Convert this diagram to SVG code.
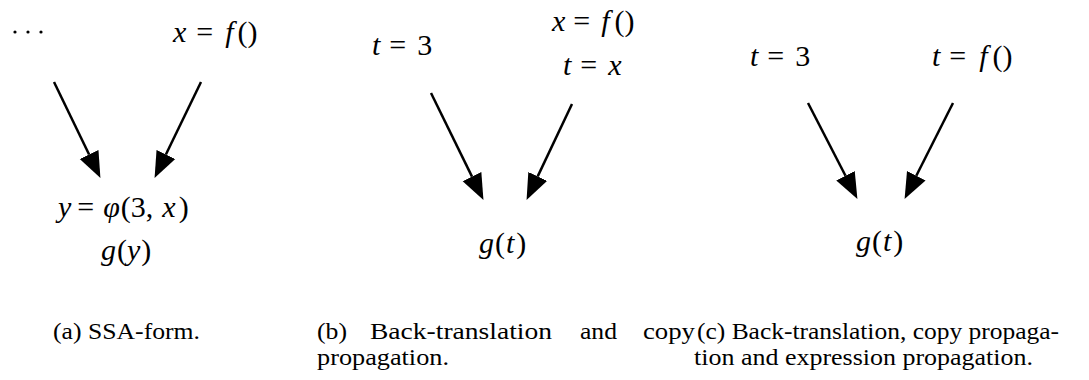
<svg xmlns="http://www.w3.org/2000/svg" width="1089" height="380" viewBox="0 0 1089 380">
<style>
.m{font-family:'Liberation Serif','DejaVu Serif',serif;font-size:30px;fill:#000}
.i{font-style:italic}
.c{font-family:'Liberation Serif','DejaVu Serif',serif;font-size:23px;fill:#000}
.e{stroke:#000;stroke-width:2.5;fill:none}
</style>
<defs>
<marker id="ah" markerUnits="userSpaceOnUse" markerWidth="26" markerHeight="22" viewBox="0 0 25 20" refX="0" refY="10" orient="auto">
<path d="M0,0 L25,10 L0,20 z" fill="#000"/>
</marker>
</defs>
<rect width="1089" height="380" fill="#fff"/>

<!-- Panel (a) -->
<g id="a_dots">
<circle cx="15" cy="32" r="1.6"/><circle cx="28" cy="32" r="1.6"/><circle cx="41" cy="32" r="1.6"/>
</g>
<g id="a_xf">
<text class="m" x="173" y="42"><tspan class="i">x</tspan><tspan dx="10">=</tspan><tspan class="i" dx="12">f</tspan><tspan dx="4">()</tspan></text>
</g>
<g id="a_phi">
<text class="m" x="58" y="217"><tspan class="i">y</tspan><tspan dx="6">=</tspan><tspan class="i" dx="9">φ</tspan><tspan dx="1">(3,</tspan><tspan class="i" dx="9">x</tspan><tspan dx="3">)</tspan></text>
<text class="m" x="101" y="260"><tspan class="i">g</tspan><tspan dx="1">(</tspan><tspan class="i">y</tspan><tspan dx="1">)</tspan></text>
</g>

<!-- Panel (b) -->
<g id="b_t3">
<text class="m" x="372" y="55"><tspan class="i">t</tspan><tspan dx="9">=</tspan><tspan dx="11">3</tspan></text>
</g>
<g id="b_xf">
<text class="m" x="552" y="31"><tspan class="i">x</tspan><tspan dx="8">=</tspan><tspan class="i" dx="11">f</tspan><tspan dx="5">()</tspan></text>
<text class="m" x="563" y="75"><tspan class="i">t</tspan><tspan dx="9">=</tspan><tspan class="i" dx="11">x</tspan></text>
</g>
<g id="b_g">
<text class="m" x="479" y="253"><tspan class="i">g</tspan><tspan dx="1">(</tspan><tspan class="i" dx="1">t</tspan><tspan dx="2">)</tspan></text>
</g>

<!-- Panel (c) -->
<g id="c_t3">
<text class="m" x="750" y="66"><tspan class="i">t</tspan><tspan dx="9">=</tspan><tspan dx="11">3</tspan></text>
</g>
<g id="c_tf">
<text class="m" x="932" y="66"><tspan class="i">t</tspan><tspan dx="9">=</tspan><tspan class="i" dx="13">f</tspan><tspan dx="5">()</tspan></text>
</g>
<g id="c_g">
<text class="m" x="856" y="251"><tspan class="i">g</tspan><tspan dx="1">(</tspan><tspan class="i" dx="1">t</tspan><tspan dx="2">)</tspan></text>
</g>

<!-- Connectors -->
<g id="edges">
<line class="e" x1="54" y1="82" x2="89.1" y2="154.5" marker-end="url(#ah)"/>
<line class="e" x1="201" y1="82" x2="165.9" y2="154.5" marker-end="url(#ah)"/>
<line class="e" x1="431" y1="93" x2="472" y2="176.6" marker-end="url(#ah)"/>
<line class="e" x1="572" y1="104" x2="537.7" y2="176.4" marker-end="url(#ah)"/>
<line class="e" x1="808" y1="103" x2="845.5" y2="175.8" marker-end="url(#ah)"/>
<line class="e" x1="953" y1="103" x2="916.3" y2="175.7" marker-end="url(#ah)"/>
</g>

<!-- Captions -->
<g id="captions">
<text class="c" x="53" y="339" textLength="147" lengthAdjust="spacingAndGlyphs">(a) SSA-form.</text>
<text class="c" x="317" y="339" textLength="30" lengthAdjust="spacingAndGlyphs">(b)</text>
<text class="c" x="370" y="339" textLength="182" lengthAdjust="spacingAndGlyphs">Back-translation</text>
<text class="c" x="580" y="339" textLength="37" lengthAdjust="spacingAndGlyphs">and</text>
<text class="c" x="643" y="339" textLength="52" lengthAdjust="spacingAndGlyphs">copy</text>
<text class="c" x="317" y="365" textLength="132" lengthAdjust="spacingAndGlyphs">propagation.</text>
<text class="c" x="697" y="339" textLength="362" lengthAdjust="spacingAndGlyphs">(c) Back-translation, copy propaga-</text>
<text class="c" x="694" y="365" textLength="339" lengthAdjust="spacingAndGlyphs">tion and expression propagation.</text>
</g>
</svg>
